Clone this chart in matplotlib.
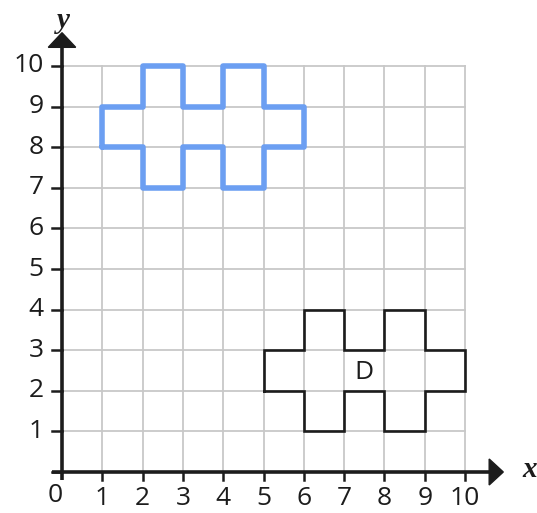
import matplotlib
matplotlib.use("Agg")
import matplotlib.pyplot as plt

# Data
ticks = list(range(0, 11))
tick_labels_x = [str(t) for t in range(1, 11)]
tick_labels_y = [str(t) for t in range(1, 11)]
shape_d_x = [5, 5, 6, 6, 7, 7, 8, 8, 9, 9, 10, 10, 9, 9, 8, 8, 7, 7, 6, 6, 5]
shape_d_y = [2, 3, 3, 4, 4, 3, 3, 4, 4, 3, 3, 2, 2, 1, 1, 2, 2, 1, 1, 2, 2]
shift_x, shift_y = -4, 6
blue_x = [x + shift_x for x in shape_d_x]
blue_y = [y + shift_y for y in shape_d_y]

W, H = 537, 513
fig = plt.figure(figsize=(W / 100, H / 100), dpi=100)
ax = fig.add_axes([0, 0, 1, 1])
ox, oy = 62, 472
ux, uy = 40.3, 40.6
ax.set_xlim(-ox / ux, (W - ox) / ux)
ax.set_ylim(-(H - oy) / uy, oy / uy)
ax.axis("off")

dark = "#1c1c1c"
grid_c = "#c8c8c8"
for t in ticks[1:]:
    ax.plot([t, t], [0, 10], color=grid_c, lw=1.3, zorder=1)
    ax.plot([0, 10], [t, t], color=grid_c, lw=1.3, zorder=1)

# Axes lines
ax.plot([-0.25, 10.65], [0, 0], color=dark, lw=2.6, zorder=3, solid_capstyle="butt")
ax.plot([0, 0], [-0.2, 10.5], color=dark, lw=2.6, zorder=3, solid_capstyle="butt")
# arrows
ax.fill([10.6, 10.6, 10.95], [-0.32, 0.32, 0], color=dark, zorder=4, clip_on=False)
ax.fill([-0.34, 0.34, 0], [10.46, 10.46, 10.82], color=dark, zorder=4, clip_on=False)

# tick marks
for t in ticks:
    if t > 0:
        ax.plot([t, t], [0, -0.2], color=dark, lw=1.8, zorder=3)
    ax.plot([0, -0.25], [t, t], color=dark, lw=1.8, zorder=3)

font = "Open Sans"
fs = 19
for t, lab in zip(ticks[1:], tick_labels_x):
    ax.text(t, -0.34, lab, ha="center", va="top", fontsize=fs, family=font, color=dark)
for t, lab in zip(ticks[1:], tick_labels_y):
    ax.text(-0.45, t, lab, ha="right", va="center", fontsize=fs, family=font, color=dark)
ax.text(-0.17, -0.27, "0", ha="center", va="top", fontsize=fs, family=font, color=dark)

ax.text(11.6, 0.05, "x", ha="center", va="center", fontsize=21, family="Liberation Serif",
        style="italic", weight="bold", color=dark)
ax.text(0.03, 11.13, "y", ha="center", va="center", fontsize=21, family="Liberation Serif",
        style="italic", weight="bold", color=dark)

# Shapes
ax.plot(shape_d_x, shape_d_y, color=dark, lw=1.9, zorder=5, solid_joinstyle="miter")
ax.text(7.5, 2.45, "D", ha="center", va="center", fontsize=fs, family=font, color=dark, zorder=6)
ax.plot(blue_x, blue_y, color="#6c9ff2", lw=4.0, zorder=5, solid_joinstyle="round",
        solid_capstyle="round")

fig.savefig("out.png", dpi=100)
